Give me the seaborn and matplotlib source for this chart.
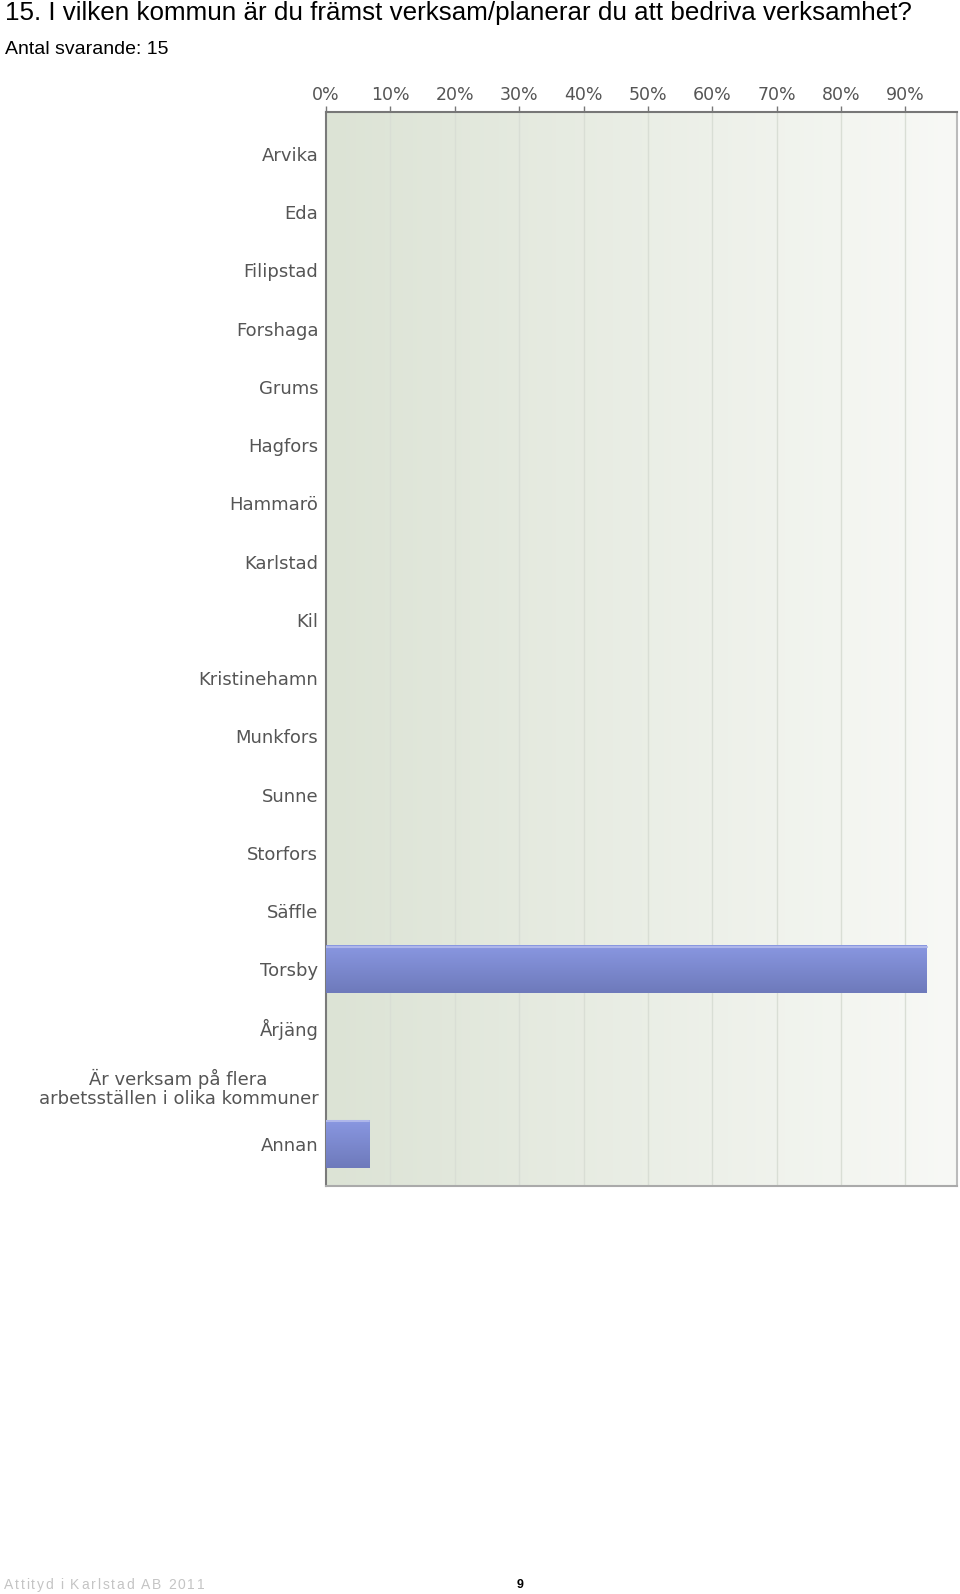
import numpy as np
import pandas as pd
import matplotlib
matplotlib.use('Agg')
from matplotlib import pyplot as plt
from matplotlib.colors import LinearSegmentedColormap
import seaborn as sns

# data (percent of 15 respondents)
kommuner = ['Arvika', 'Eda', 'Filipstad', 'Forshaga', 'Grums', 'Hagfors', 'Hammarö',
            'Karlstad', 'Kil', 'Kristinehamn', 'Munkfors', 'Sunne', 'Storfors', 'Säffle',
            'Torsby', 'Årjäng', 'Är verksam på flera\narbetsställen i olika kommuner', 'Annan']
andel = [0, 0, 0, 0, 0, 0, 0, 0, 0, 0, 0, 0, 0, 0, 93.3, 0, 0, 6.7]
xticks = [0, 10, 20, 30, 40, 50, 60, 70, 80, 90]

df = pd.DataFrame({'kommun': kommuner, 'andel': andel})

sns.set_style('white')
plt.rcParams['font.family'] = ['Liberation Sans', 'DejaVu Sans']

fig = plt.figure(figsize=(9.6, 15.94), dpi=100)
ax = fig.add_axes([326/960, 1-1186/1594, (957-326)/960, (1186-112)/1594])

# background gradient
bg = LinearSegmentedColormap.from_list('bg', ['#dce3d5', '#f8f9f6'])
ax.imshow(np.linspace(0, 1, 256).reshape(1, -1), cmap=bg, aspect='auto',
          extent=[0, 98, 17.72, -0.72], zorder=0)

for t in xticks[1:]:
    ax.axvline(t, color='#d9ded5', lw=1.0, zorder=1)

sns.barplot(data=df, x='andel', y='kommun', orient='h', color='#7c88cc',
            width=0.82, ax=ax, zorder=3, saturation=1, linewidth=0)

# vertical gradient on the bars (lighter on top)
barcm = LinearSegmentedColormap.from_list('bar', ['#8997e1', '#6e7abb'])
for p in ax.patches:
    if p.get_width() > 0:
        x0, y0 = p.get_x(), p.get_y()
        w, h = p.get_width(), p.get_height()
        im = ax.imshow(np.linspace(0, 1, 64).reshape(-1, 1), cmap=barcm, aspect='auto',
                       extent=[x0, x0 + w, y0 + h, y0], origin='upper', zorder=4)
        im.set_clip_path(p)
        ax.plot([x0, x0 + w], [y0 + 0.02, y0 + 0.02], color='#aeb6ea', lw=1.5, zorder=5)

ax.set_xlim(0, 98)
ax.set_ylim(17.72, -0.72)
ax.xaxis.tick_top()
ax.set_xticks(xticks)
ax.set_xticklabels([f'{t}%' for t in xticks], family='DejaVu Sans')
ax.tick_params(axis='x', top=True, length=4, width=1, color='#777777', pad=1.5,
               labelsize=12.5, labelcolor='#555555')
ax.tick_params(axis='y', left=False, pad=2, labelsize=13, labelcolor='#555555')
for lab in ax.get_yticklabels():
    lab.set_multialignment('center')
    lab.set_family('DejaVu Sans')
    lab.set_linespacing(1.1)
ax.set_xlabel('')
ax.set_ylabel('')

ax.spines['top'].set_color('#777777')
ax.spines['left'].set_color('#7a7a7a')
ax.spines['right'].set_color('#bbbbbb')
ax.spines['bottom'].set_color('#aaaaaa')
for s in ax.spines.values():
    s.set_linewidth(1.5)

fig.text(5/960, 1-13/1594, '15. I vilken kommun är du främst verksam/planerar du att bedriva verksamhet?',
         fontsize=18.7, va='center', ha='left', color='black')
fig.text(5/960, 1-49/1594, 'Antal svarande: 15', fontsize=14, va='center', ha='left', color='black')

# footer with letter spacing
fig.canvas.draw()
r = fig.canvas.get_renderer()
xpos = 4
for ch in 'Attityd i Karlstad AB 2011':
    t = fig.text(xpos/960, 1-1585/1594, ch, fontsize=10, va='center', ha='left', color='#c4c4c4')
    xpos += t.get_window_extent(r).width + 1.8 if ch != ' ' else 5
fig.text(520/960, 1-1585/1594, '9', fontsize=9, va='center', ha='center', color='black',
         fontweight='bold')

fig.savefig('out.png', dpi=100)
